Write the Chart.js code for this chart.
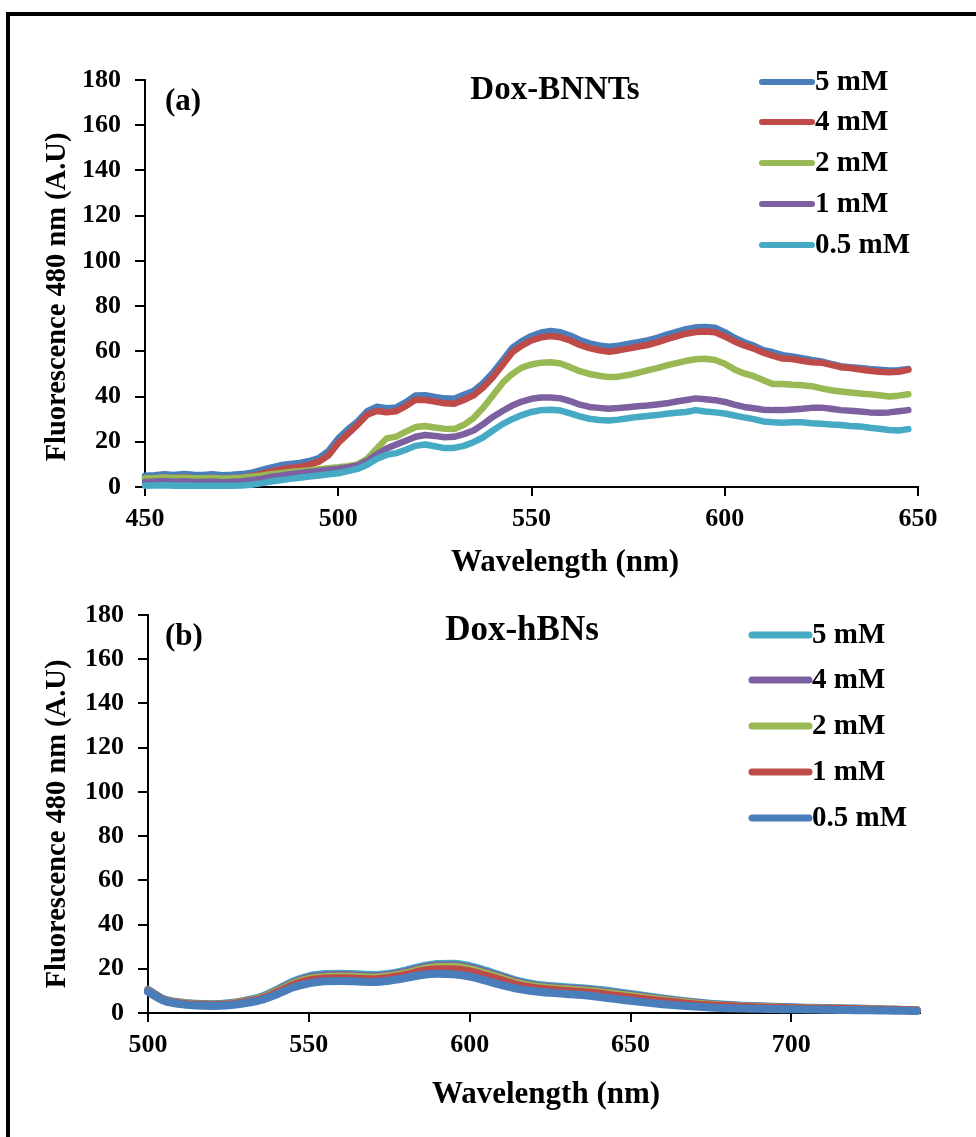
<!DOCTYPE html>
<html>
<head>
<meta charset="utf-8">
<script src="https://cdn.jsdelivr.net/npm/chart.js@4/dist/chart.umd.min.js"></script>
<style>
  html, body { margin: 0; padding: 0; background: #fff; }
  #page { position: relative; width: 976px; height: 1137px; overflow: hidden; background: #fff; }
  #frame { position: absolute; left: 6px; top: 12px; width: 980px; height: 1140px;
           border-top: 4px solid #000; border-left: 4px solid #000; box-sizing: border-box; }
  .panel { position: absolute; left: 0; width: 976px; }
  #panelA { top: 0; height: 580px; }
  #panelB { top: 580px; height: 557px; }
</style>
</head>
<body>
<div id="page">
  <div id="frame"></div>
  <div class="panel" id="panelA"><canvas id="chartA" width="976" height="580"></canvas></div>
  <div class="panel" id="panelB"><canvas id="chartB" width="976" height="557"></canvas></div>
</div>
<script>
// ---------- (a) Dox-BNNTs : emission spectra ----------
const wavelengthA = [
  450, 452.5, 455, 457.5, 460, 462.5, 465, 467.5, 470, 472.5,
  475, 477.5, 480, 482.5, 485, 487.5, 490, 492.5, 495, 497.5,
  500, 502.5, 505, 507.5, 510, 512.5, 515, 517.5, 520, 522.5,
  525, 527.5, 530, 532.5, 535, 537.5, 540, 542.5, 545, 547.5,
  550, 552.5, 555, 557.5, 560, 562.5, 565, 567.5, 570, 572.5,
  575, 577.5, 580, 582.5, 585, 587.5, 590, 592.5, 595, 597.5,
  600, 602.5, 605, 607.5, 610, 612.5, 615, 617.5, 620, 622.5,
  625, 627.5, 630, 632.5, 635, 637.5, 640, 642.5, 645, 647.5
];
const bnnt5mM = [
  5.0, 5.2, 5.6, 5.3, 5.8, 5.4, 5.3, 5.6, 5.2, 5.4,
  5.7, 6.3, 7.5, 8.6, 9.6, 10.2, 10.6, 11.5, 12.8, 16.0,
  21.5, 25.5, 29.0, 33.5, 35.5, 34.8, 35.2, 37.5, 40.5, 40.6,
  39.8, 39.2, 39.0, 40.8, 42.5, 46.0, 50.5, 56.0, 61.5, 64.5,
  66.8, 68.3, 69.0, 68.4, 67.0, 65.0, 63.5, 62.6, 62.0, 62.5,
  63.3, 64.0, 64.8, 66.0, 67.4, 68.6, 69.8, 70.6, 70.8, 70.4,
  68.5, 66.0, 64.0, 62.5, 60.5, 59.6, 58.3, 57.7, 57.0, 56.2,
  55.5, 54.4, 53.4, 53.0, 52.6, 52.2, 51.9, 51.5, 51.6, 52.2
];
const bnnt4mM = [
  3.6, 3.8, 4.2, 3.9, 4.3, 3.9, 3.8, 4.1, 3.7, 3.9,
  4.2, 4.8, 5.8, 6.8, 7.8, 8.4, 8.9, 9.8, 11.2, 14.0,
  19.5, 23.5, 27.5, 32.0, 33.6, 33.0, 33.5, 35.8, 38.6, 38.5,
  37.8, 37.0, 36.8, 38.5, 40.5, 44.0, 48.5, 54.0, 59.5, 62.5,
  64.8, 66.2, 66.8, 66.2, 64.8, 62.8, 61.4, 60.5, 59.8, 60.4,
  61.2, 62.0, 62.8, 64.0, 65.4, 66.6, 67.8, 68.5, 68.8, 68.4,
  66.6, 64.4, 62.6, 61.2, 59.4, 58.0, 56.8, 56.6, 55.8, 55.2,
  55.0, 54.0, 53.0, 52.6, 52.0, 51.4, 51.0, 50.8, 51.0, 51.8
];
const bnnt2mM = [
  3.9, 4.0, 4.2, 4.0, 4.1, 3.9, 3.9, 4.0, 3.8, 3.9,
  4.1, 4.5, 5.0, 5.6, 6.1, 6.6, 7.0, 7.4, 7.9, 8.3,
  8.7, 9.2, 10.0, 12.5, 17.0, 21.5, 22.3, 24.5, 26.5, 27.0,
  26.3, 25.8, 25.6, 27.5, 30.5, 35.0, 40.5, 46.0, 50.0, 52.8,
  54.2, 55.0, 55.2, 54.6, 53.0, 51.2, 50.0, 49.2, 48.6, 48.8,
  49.5, 50.5, 51.6, 52.6, 53.8, 54.8, 55.8, 56.5, 56.7, 56.2,
  54.5, 52.0, 50.2, 49.0, 47.2, 45.5, 45.6, 45.2, 45.0, 44.6,
  43.6, 42.8, 42.2, 41.8, 41.4, 41.0, 40.6, 40.0, 40.4, 41.0
];
const bnnt1mM = [
  2.2, 2.4, 2.6, 2.3, 2.5, 2.3, 2.2, 2.4, 2.1, 2.3,
  2.5, 3.0, 3.6, 4.4, 5.0, 5.6, 6.1, 6.6, 7.1, 7.6,
  8.1, 8.7, 9.5, 11.5, 14.5, 17.0, 18.8, 20.5, 22.2, 23.0,
  22.6, 22.0, 22.2, 23.4, 25.0, 27.8, 31.0, 33.6, 36.0, 37.8,
  39.0, 39.6, 39.6, 39.2, 38.0, 36.4, 35.4, 35.0, 34.6, 34.9,
  35.3, 35.7, 36.0, 36.5, 37.0, 37.8, 38.5, 39.2, 38.8, 38.4,
  37.6, 36.4, 35.4, 34.8, 34.2, 34.0, 34.0, 34.3, 34.6, 35.0,
  35.1, 34.6, 34.0, 33.7, 33.4, 33.0, 32.8, 33.0, 33.5, 34.0
];
const bnnt05mM = [
  0.6, 0.7, 0.8, 0.6, 0.7, 0.6, 0.5, 0.6, 0.5, 0.6,
  0.7, 1.0, 1.6, 2.4, 3.0, 3.6, 4.1, 4.6, 5.1, 5.6,
  6.1, 7.0, 8.0, 9.8, 12.5, 14.2, 15.0, 16.5, 18.2, 18.8,
  18.0, 17.2, 17.3, 18.2, 19.8, 22.0, 25.0, 27.8, 30.0, 31.8,
  33.2, 34.0, 34.2, 33.8, 32.6, 31.2, 30.2, 29.6, 29.4, 29.8,
  30.4, 31.0, 31.4, 31.8, 32.4, 32.8, 33.2, 34.0, 33.4, 33.0,
  32.5, 31.6, 30.8, 30.0, 29.0, 28.6, 28.4, 28.6, 28.6, 28.2,
  28.0, 27.6, 27.4, 27.0, 26.8, 26.2, 25.8, 25.2, 25.0, 25.6
];
const labelsA = ['5 mM', '4 mM', '2 mM', '1 mM', '0.5 mM'];

// ---------- (b) Dox-hBNs : emission spectra ----------
const wavelengthB = [
  500, 505, 510, 515, 520, 525, 530, 535, 540, 545,
  550, 555, 560, 565, 570, 575, 580, 585, 590, 595,
  600, 605, 610, 615, 620, 625, 630, 635, 640, 645,
  650, 655, 660, 665, 670, 675, 680, 685, 690, 695,
  700, 705, 710, 715, 720, 725, 730, 735, 739
];
const hbn5mM = [
  10.5, 6.2, 4.8, 4.2, 4.0, 4.4, 5.5, 7.2, 10.5, 14.2,
  16.6, 17.6, 17.8, 17.5, 17.2, 17.8, 19.2, 21.0, 22.2, 22.3,
  21.2, 19.2, 16.8, 14.5, 13.0, 12.2, 11.7, 11.2, 10.5, 9.6,
  8.6, 7.6, 6.6, 5.7, 4.9, 4.2, 3.7, 3.3, 3.0, 2.8,
  2.6, 2.4, 2.3, 2.1, 2.0, 1.8, 1.6, 1.4, 1.3
];
const hbn4mM = [
  10.3, 6.0, 4.6, 4.0, 3.8, 4.2, 5.3, 6.9, 10.0, 13.6,
  16.0, 17.0, 17.2, 16.9, 16.6, 17.2, 18.6, 20.4, 21.5, 21.6,
  20.5, 18.5, 16.2, 14.0, 12.5, 11.7, 11.2, 10.7, 10.0, 9.1,
  8.2, 7.2, 6.3, 5.4, 4.6, 4.0, 3.5, 3.1, 2.9, 2.7,
  2.5, 2.3, 2.2, 2.0, 1.9, 1.7, 1.5, 1.4, 1.2
];
const hbn2mM = [
  10.1, 5.9, 4.5, 3.9, 3.7, 4.0, 5.1, 6.6, 9.6, 13.1,
  15.4, 16.3, 16.5, 16.3, 16.0, 16.6, 17.9, 19.7, 20.8, 20.9,
  19.8, 17.8, 15.6, 13.4, 12.0, 11.2, 10.7, 10.2, 9.5, 8.6,
  7.7, 6.8, 5.9, 5.1, 4.3, 3.7, 3.2, 2.9, 2.7, 2.5,
  2.3, 2.2, 2.0, 1.9, 1.8, 1.6, 1.5, 1.3, 1.2
];
const hbn1mM = [
  9.9, 5.8, 4.3, 3.7, 3.5, 3.8, 4.8, 6.3, 9.2, 12.5,
  14.7, 15.6, 15.7, 15.5, 15.3, 15.9, 17.2, 18.9, 19.8, 19.8,
  18.8, 16.9, 14.8, 12.6, 11.3, 10.5, 10.0, 9.5, 8.8, 7.9,
  7.0, 6.1, 5.3, 4.6, 3.9, 3.4, 3.0, 2.7, 2.5, 2.3,
  2.2, 2.0, 1.9, 1.8, 1.7, 1.5, 1.4, 1.3, 1.1
];
const hbn05mM = [
  9.6, 5.5, 4.0, 3.4, 3.2, 3.5, 4.4, 5.8, 8.4, 11.5,
  13.4, 14.4, 14.5, 14.3, 14.0, 14.6, 15.8, 17.2, 17.8, 17.5,
  16.5, 14.6, 12.6, 10.9, 9.8, 9.1, 8.6, 8.1, 7.3, 6.4,
  5.5, 4.7, 4.0, 3.4, 2.9, 2.5, 2.2, 2.0, 1.9, 1.8,
  1.7, 1.6, 1.5, 1.4, 1.3, 1.2, 1.1, 1.0, 0.9
];
const labelsB = ['5 mM', '4 mM', '2 mM', '1 mM', '0.5 mM'];

// y ticks shared by both panels
const yTicks = [0, 20, 40, 60, 80, 100, 120, 140, 160, 180];
const xTicksA = [450, 500, 550, 600, 650];
const xTicksB = [500, 550, 600, 650, 700];

// ---------- styling ----------
const FONT = "'Liberation Serif', 'Times New Roman', serif";
const C = { blue: '#4A7EBB', red: '#BE4B48', green: '#98B954', purple: '#7D60A0', aqua: '#46AAC5' };
Chart.defaults.font.family = FONT;
Chart.defaults.color = '#000';

function toPoints(xs, ys) { return xs.map((x, i) => ({ x: x, y: ys[i] })); }

function makeDatasets(xs, series, labels, colors, width, smooth) {
  return series.map((ys, i) => ({
    label: labels[i],
    data: toPoints(xs, ys),
    borderColor: colors[i],
    backgroundColor: colors[i],
    borderWidth: width,
    pointRadius: 0,
    borderCapStyle: 'round',
    borderJoinStyle: 'round',
    tension: smooth ? 0.4 : 0,
    cubicInterpolationMode: smooth ? 'monotone' : 'default',
    order: series.length - 1 - i,   // later series painted over earlier ones
    clip: 4
  }));
}

// Panel annotations and the in-plot legend
const panelText = {
  id: 'panelText',
  afterDraw(chart, args, opts) {
    const ctx = chart.ctx;
    ctx.save();
    ctx.fillStyle = '#000';
    for (const t of opts.items) {
      ctx.save();
      ctx.font = 'bold ' + t.size + 'px ' + FONT;
      ctx.textAlign = t.align || 'center';
      ctx.textBaseline = 'middle';
      ctx.translate(t.x, t.y);
      if (t.rotate) ctx.rotate(t.rotate);
      ctx.fillText(t.text, 0, 0);
      ctx.restore();
    }
    const lg = opts.legend;
    chart.data.datasets.forEach((ds, i) => {
      const y = lg.rows[i];
      ctx.beginPath();
      ctx.lineCap = 'round';
      ctx.lineWidth = lg.lineWidth;
      ctx.strokeStyle = ds.borderColor;
      ctx.moveTo(lg.x0, y);
      ctx.lineTo(lg.x1, y);
      ctx.stroke();
      ctx.font = 'bold ' + lg.size + 'px ' + FONT;
      ctx.textAlign = 'left';
      ctx.textBaseline = 'middle';
      ctx.fillText(ds.label, lg.textX, y + 1);
    });
    ctx.restore();
  }
};

function axisOptions(opts) {
  const tickFilter = (allowed) => (scale) => {
    scale.ticks = scale.ticks.filter(t => allowed.includes(t.value));
  };
  return {
    x: {
      type: 'linear',
      min: opts.xMin, max: opts.xMax,
      afterBuildTicks: tickFilter(opts.xTicks),
      afterFit: (s) => { s.height = 60; },
      ticks: { stepSize: 50, padding: 8, font: { size: 26, weight: 'bold' }, color: '#000', maxRotation: 0 },
      grid: { display: true, drawOnChartArea: false, drawTicks: true, tickLength: 9, color: '#000', lineWidth: 2 },
      border: { display: true, color: '#000', width: 2 }
    },
    y: {
      type: 'linear',
      min: 0, max: 180,
      afterBuildTicks: tickFilter(yTicks),
      afterFit: (s) => { s.width = opts.yWidth; },
      ticks: { stepSize: 20, padding: 14, font: { size: 26, weight: 'bold' }, color: '#000' },
      grid: { display: true, drawOnChartArea: false, drawTicks: true, tickLength: 10, color: '#000', lineWidth: 2 },
      border: { display: true, color: '#000', width: 2 }
    }
  };
}

const common = {
  responsive: false,
  animation: false,
  devicePixelRatio: 1,
  events: []
};

// ---------- chart (a) ----------
new Chart(document.getElementById('chartA'), {
  type: 'line',
  data: {
    datasets: makeDatasets(wavelengthA, [bnnt5mM, bnnt4mM, bnnt2mM, bnnt1mM, bnnt05mM], labelsA,
      [C.blue, C.red, C.green, C.purple, C.aqua], 6.5, false)
  },
  options: Object.assign({}, common, {
    layout: { padding: { top: 80, left: 41, right: 58, bottom: 33 } },
    scales: axisOptions({ xMin: 450, xMax: 650, xTicks: xTicksA, yWidth: 104 }),
    plugins: {
      legend: { display: false },
      tooltip: { enabled: false },
      panelText: {
        items: [
          { text: '(a)', x: 165, y: 102, size: 31, align: 'left' },
          { text: 'Dox-BNNTs', x: 555, y: 90, size: 33 },
          { text: 'Fluorescence 480 nm (A.U)', x: 58, y: 297, size: 28.5, rotate: -Math.PI / 2 },
          { text: 'Wavelength (nm)', x: 565, y: 563, size: 31 }
        ],
        legend: { rows: [82, 122, 163, 204, 245], x0: 762, x1: 812, textX: 815, size: 29, lineWidth: 6 }
      }
    }
  }),
  plugins: [panelText]
});

// ---------- chart (b) ----------
new Chart(document.getElementById('chartB'), {
  type: 'line',
  data: {
    datasets: makeDatasets(wavelengthB, [hbn5mM, hbn4mM, hbn2mM, hbn1mM, hbn05mM], labelsB,
      [C.aqua, C.purple, C.green, C.red, C.blue], 8, true)
  },
  options: Object.assign({}, common, {
    layout: { padding: { top: 35, left: 41, right: 56, bottom: 64 } },
    scales: axisOptions({ xMin: 500, xMax: 740, xTicks: xTicksB, yWidth: 107 }),
    plugins: {
      legend: { display: false },
      tooltip: { enabled: false },
      panelText: {
        items: [
          { text: '(b)', x: 165, y: 57, size: 31, align: 'left' },
          { text: 'Dox-hBNs', x: 522, y: 51, size: 35 },
          { text: 'Fluorescence 480 nm (A.U)', x: 58, y: 244, size: 28.5, rotate: -Math.PI / 2 },
          { text: 'Wavelength (nm)', x: 546, y: 515, size: 31 }
        ],
        legend: { rows: [55, 100, 146, 192, 238], x0: 752, x1: 809, textX: 812, size: 29, lineWidth: 7 }
      }
    }
  }),
  plugins: [panelText]
});
</script>
</body>
</html>
